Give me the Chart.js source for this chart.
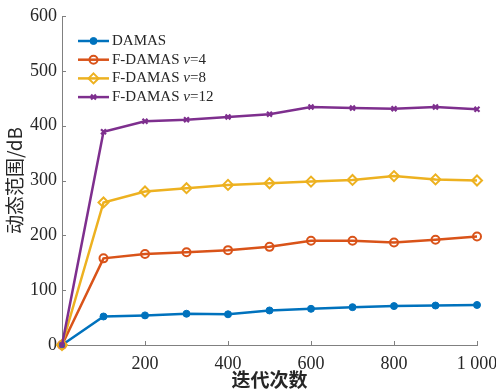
<!DOCTYPE html>
<html lang="zh">
<head>
<meta charset="UTF-8">
<title>动态范围</title>
<script src="https://cdn.jsdelivr.net/npm/chart.js"></script>
<style>
  html, body { margin: 0; padding: 0; background: #fff; }
  #wrap { width: 496px; height: 390px; }
</style>
</head>
<body>
<div id="wrap"><canvas id="rangeChart" width="496" height="390"></canvas></div>
<script>
// iterations on x, dynamic range (dB) on y
const iterations = [0, 100, 200, 300, 400, 500, 600, 700, 800, 900, 1000];
const damas     = [0, 52, 54, 57, 56, 63, 66, 69, 71, 72, 73];
const fdamasV4  = [0, 158, 166, 169, 173, 179, 190, 190, 187, 192, 198];
const fdamasV8  = [0, 260, 280, 286, 292, 295, 298, 301, 308, 302, 300];
const fdamasV12 = [0, 389, 408, 411, 416, 421, 434, 432, 431, 434, 430];

const seriesNames = ['DAMAS', 'F-DAMAS', 'F-DAMAS', 'F-DAMAS'];
const seriesV = [null, 4, 8, 12];
const xTicks = [0, 200, 400, 600, 800, 1000];
const yTicks = [0, 100, 200, 300, 400, 500, 600];

const AXIS = '#808080';
const TEXT = '#262626';
const SERIF = '"Liberation Serif", "Times New Roman", serif';
const CJK = '"Noto Sans CJK SC", sans-serif';

function toPoints(ys) {
  return iterations.map((x, i) => ({ x: x, y: ys[i] }));
}

function makeSet(label, ys, color, style, radius, fill, bw, order) {
  return {
    label: label,
    data: toPoints(ys),
    borderColor: color,
    backgroundColor: fill,
    borderWidth: 2.5,
    pointStyle: style,
    pointRadius: radius,
    pointHoverRadius: radius,
    pointBorderColor: color,
    pointBackgroundColor: fill,
    pointBorderWidth: bw,
    tension: 0,
    clip: false,
    order: order
  };
}

function drawMarker(ctx, ds, x, y) {
  const r = ds.pointRadius;
  ctx.save();
  ctx.strokeStyle = ds.pointBorderColor;
  ctx.fillStyle = ds.pointBackgroundColor;
  ctx.lineWidth = ds.pointBorderWidth;
  ctx.beginPath();
  if (ds.pointStyle === 'circle') {
    ctx.arc(x, y, r, 0, Math.PI * 2);
    ctx.fill();
    ctx.stroke();
  } else if (ds.pointStyle === 'rectRot') {
    ctx.moveTo(x, y - r); ctx.lineTo(x + r, y); ctx.lineTo(x, y + r); ctx.lineTo(x - r, y);
    ctx.closePath();
    ctx.fill();
    ctx.stroke();
  } else {
    const d = r * Math.SQRT1_2;
    ctx.moveTo(x - d, y - d); ctx.lineTo(x + d, y + d);
    ctx.moveTo(x - d, y + d); ctx.lineTo(x + d, y - d);
    ctx.stroke();
  }
  ctx.restore();
}

// legend box in the upper left, with italic v
const seriesLegend = {
  id: 'seriesLegend',
  afterDraw(chart) {
    const ctx = chart.ctx;
    const area = chart.chartArea;
    const x0 = area.left + 16;
    chart.data.datasets.forEach((ds, i) => {
      const y = area.top + 25 + i * 18.7;
      ctx.save();
      ctx.strokeStyle = ds.borderColor;
      ctx.lineWidth = ds.borderWidth;
      ctx.beginPath();
      ctx.moveTo(x0, y);
      ctx.lineTo(x0 + 31, y);
      ctx.stroke();
      ctx.restore();
      drawMarker(ctx, ds, x0 + 15.5, y);

      ctx.save();
      ctx.fillStyle = TEXT;
      ctx.textBaseline = 'middle';
      let tx = x0 + 34;
      ctx.font = '15px ' + SERIF;
      const name = seriesNames[i] + (seriesV[i] !== null ? ' ' : '');
      ctx.fillText(name, tx, y);
      tx += ctx.measureText(name).width;
      if (seriesV[i] !== null) {
        ctx.font = 'italic 15px ' + SERIF;
        ctx.fillText('v', tx, y);
        tx += ctx.measureText('v').width;
        ctx.font = '15px ' + SERIF;
        ctx.fillText('=' + seriesV[i], tx, y);
      }
      ctx.restore();
    });
  }
};

// short tick marks pointing into the plot
const innerTicks = {
  id: 'innerTicks',
  afterDraw(chart) {
    const ctx = chart.ctx;
    const xs = chart.scales.x, ys = chart.scales.y;
    const area = chart.chartArea;
    ctx.save();
    ctx.strokeStyle = AXIS;
    ctx.lineWidth = 1;
    ctx.beginPath();
    yTicks.slice(1).forEach(v => {
      const py = Math.round(ys.getPixelForValue(v)) + 0.5;
      ctx.moveTo(area.left, py);
      ctx.lineTo(area.left + 4, py);
    });
    xTicks.slice(1).forEach(v => {
      const px = Math.round(xs.getPixelForValue(v)) + 0.5;
      ctx.moveTo(px, area.bottom);
      ctx.lineTo(px, area.bottom - 4);
    });
    ctx.stroke();
    ctx.restore();
  }
};

new Chart(document.getElementById('rangeChart'), {
  type: 'line',
  data: {
    datasets: [
      makeSet('DAMAS', damas, '#0072BD', 'circle', 3.5, '#0072BD', 1, 4),
      makeSet('F-DAMAS v=4', fdamasV4, '#D95319', 'circle', 4, 'rgba(0,0,0,0)', 2, 3),
      makeSet('F-DAMAS v=8', fdamasV8, '#EDB120', 'rectRot', 5, 'rgba(0,0,0,0)', 2, 2),
      makeSet('F-DAMAS v=12', fdamasV12, '#7E2F8E', 'crossRot', 3.5, '#7E2F8E', 2.2, 1)
    ]
  },
  options: {
    responsive: false,
    animation: false,
    devicePixelRatio: 1,
    layout: { padding: { left: 0, right: 19, top: 16, bottom: 0 } },
    plugins: {
      legend: { display: false },
      tooltip: { enabled: false }
    },
    scales: {
      x: {
        type: 'linear',
        min: 0,
        max: 1000,
        afterBuildTicks: s => { s.ticks = xTicks.map(v => ({ value: v })); },
        ticks: {
          color: TEXT,
          font: { family: SERIF, size: 18 },
          padding: 8,
          maxRotation: 0,
          callback: v => v === 0 ? '' : (v >= 1000 ? '1 000' : String(v))
        },
        grid: { display: false, drawTicks: false, tickLength: 0 },
        border: { display: true, color: AXIS, width: 1 },
        title: {
          display: true,
          text: '迭代次数',
          color: TEXT,
          font: { family: CJK, size: 19, weight: 'bold', lineHeight: 1 },
          padding: { top: 0, bottom: 1 }
        },
        afterFit: s => { s.height = 45; s.paddingLeft = 0; s.paddingRight = 0; }
      },
      y: {
        min: 0,
        max: 600,
        afterBuildTicks: s => { s.ticks = yTicks.map(v => ({ value: v })); },
        ticks: {
          color: TEXT,
          font: { family: SERIF, size: 18 },
          padding: 5
        },
        grid: { display: false, drawTicks: false, tickLength: 0 },
        border: { display: true, color: AXIS, width: 1 },
        title: {
          display: true,
          text: '动态范围/dB',
          color: TEXT,
          font: { family: CJK, size: 19, lineHeight: 1 },
          padding: { top: 5, bottom: 0 }
        },
        afterFit: s => { s.width = 62; s.paddingTop = 0; s.paddingBottom = 0; }
      }
    }
  },
  plugins: [innerTicks, seriesLegend]
});
</script>
</body>
</html>
